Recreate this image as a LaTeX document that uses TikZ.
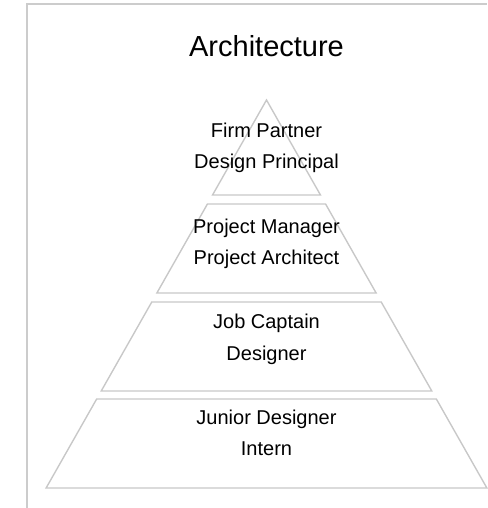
\documentclass[tikz,border=0pt]{standalone}
\usepackage{fontspec}
\setmainfont{Liberation Sans}
\definecolor{edgegray}{HTML}{C8C8C8}
\definecolor{framegray}{HTML}{CCCCCC}
\begin{document}
\begin{tikzpicture}[x=1pt, y=-1pt,
   frame/.style={draw=framegray, line width=2pt},
   tier/.style={draw=edgegray, line width=1.4pt, line join=miter},
   role/.style={font=\fontsize{20}{24}\selectfont, anchor=base, inner sep=0pt}]
   \useasboundingbox (0,0) rectangle (487,508);
   % frame on the left and top
   \draw[frame] (27,508) -- (27,4) -- (487,4);
   \node[font=\fontsize{29}{34}\selectfont, anchor=base, inner sep=0pt] (title) at (266.5,57) {Architecture};
   % tiers of the pyramid
   \foreach \t/\b/\ya/\yb/\first/\second [count=\i] in {
      100/195/137/168/Firm Partner/Design Principal,
      204/293/233/264/Project Manager/Project Architect,
      302/391/328/360/Job Captain/Designer,
      399/488/424/455/Junior Designer/Intern}{
      \pgfmathsetmacro\wt{(\t-100)*0.568}
      \pgfmathsetmacro\wb{(\b-100)*0.568}
      \draw[tier] (266.5-\wt,\t) -- (266.5+\wt,\t) -- (266.5+\wb,\b) -- (266.5-\wb,\b) -- cycle;
      \node[role] (tier\i a) at (266.5,\ya) {\first};
      \node[role] (tier\i b) at (266.5,\yb) {\second};
   }
\end{tikzpicture}
\end{document}
